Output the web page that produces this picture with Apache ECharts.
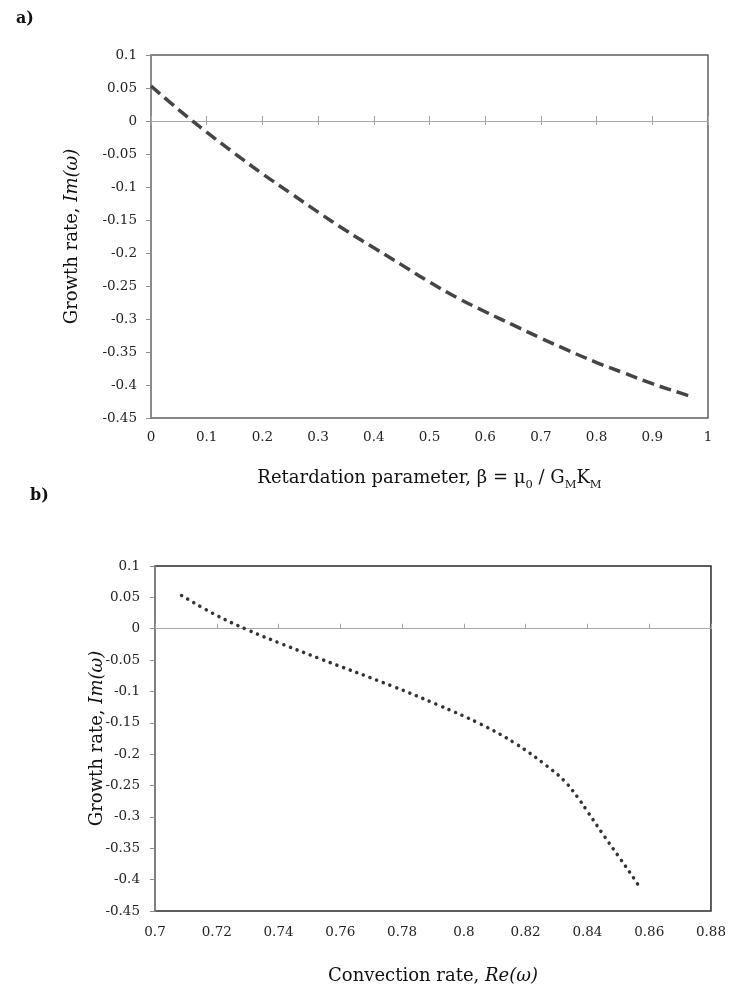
<!DOCTYPE html>
<html>
<head>
<meta charset="utf-8">
<script src="https://cdn.jsdelivr.net/npm/echarts@6/dist/echarts.min.js"></script>
<style>
html,body{margin:0;padding:0;background:#fff;}
#main{width:729px;height:994px;}
</style>
</head>
<body>
<div id="main"></div>
<script>
// Panel a: growth rate vs retardation parameter
const betaValues = [0, 0.05, 0.1, 0.15, 0.2, 0.25, 0.3, 0.35, 0.4, 0.45, 0.5, 0.55, 0.6, 0.65, 0.7, 0.75, 0.8, 0.85, 0.9, 0.95, 0.975];
const growthA = [0.053, 0.017, -0.017, -0.049, -0.080, -0.109, -0.138, -0.166, -0.192, -0.218, -0.244, -0.268, -0.289, -0.309, -0.329, -0.348, -0.366, -0.382, -0.398, -0.412, -0.419];
// Panel b: growth rate vs convection rate
const convectionB = [0.7086, 0.7194, 0.7301, 0.7414, 0.7530, 0.7771, 0.7914, 0.8054, 0.8167, 0.8269, 0.8328, 0.8376, 0.8401, 0.8455, 0.8501, 0.8545, 0.8573];
const growthB = [0.053, 0.0227, -0.002, -0.0249, -0.047, -0.092, -0.121, -0.152, -0.183, -0.219, -0.244, -0.274, -0.292, -0.331, -0.363, -0.394, -0.415];
// Tick settings
const yTicks = {min: -0.45, max: 0.1, interval: 0.05};
const xTicksA = {min: 0, max: 1, interval: 0.1};
const xTicksB = {min: 0.7, max: 0.88, interval: 0.02};

const serif = 'DejaVu Serif';
const fmt = v => String(+(+v).toFixed(2));

const seriesA = betaValues.map((b, i) => [b, growthA[i]]);
const seriesB = convectionB.map((c, i) => [c, growthB[i]]);

const labelStyle = {fontFamily: serif, fontSize: 13.5, color: '#222'};
const nameRich = {
  n: {fontFamily: serif, fontSize: 18, color: '#111', lineHeight: 26},
  i: {fontFamily: serif, fontSize: 18, color: '#111', fontStyle: 'italic', lineHeight: 26},
  s: {fontFamily: serif, fontSize: 11.5, color: '#111', lineHeight: 14, verticalAlign: 'bottom'}
};

function yAxisFor(gridIndex, nameGap, margin) {
  return {
    type: 'value', gridIndex, min: yTicks.min, max: yTicks.max, interval: yTicks.interval,
    axisLine: {show: true, lineStyle: {color: '#8c8c8c', width: 1.5}},
    axisTick: {show: true, length: 5, lineStyle: {color: '#8c8c8c'}},
    axisLabel: Object.assign({margin, formatter: fmt}, labelStyle),
    splitLine: {show: false},
    name: '{n|Growth rate, }{i|Im(ω)}', nameLocation: 'middle', nameGap, nameMoveOverlap: false,
    nameTextStyle: {rich: nameRich}
  };
}

const option = {
  animation: false,
  backgroundColor: '#fff',
  title: [
    {text: 'a)', left: 11, top: 6, textStyle: {fontFamily: serif, fontWeight: 'bold', fontSize: 16, color: '#111'}},
    {text: 'b)', left: 25, top: 483, textStyle: {fontFamily: serif, fontWeight: 'bold', fontSize: 16, color: '#111'}}
  ],
  grid: [
    {left: 151, top: 55, width: 557, height: 363, show: true, borderColor: '#5f5f5f', borderWidth: 1.5, backgroundColor: 'transparent'},
    {left: 155, top: 566, width: 557, height: 345, show: true, borderColor: '#2a2a2a', borderWidth: 1.5, backgroundColor: 'transparent'}
  ],
  xAxis: [
    // panel a: zero line with downward ticks
    {type: 'value', gridIndex: 0, min: xTicksA.min, max: xTicksA.max, interval: xTicksA.interval, position: 'bottom',
     axisLine: {show: true, onZero: true, onZeroAxisIndex: 0, lineStyle: {color: '#a6a6a6', width: 1.2}},
     axisTick: {show: true, length: 4, lineStyle: {color: '#a6a6a6'}}, axisLabel: {show: false}, splitLine: {show: false}},
    // panel a: upward ticks
    {type: 'value', gridIndex: 0, min: xTicksA.min, max: xTicksA.max, interval: xTicksA.interval, position: 'top',
     axisLine: {show: false, onZero: true, onZeroAxisIndex: 0},
     axisTick: {show: true, length: 5, lineStyle: {color: '#a6a6a6'}}, axisLabel: {show: false}, splitLine: {show: false}},
    // panel a: labels at bottom
    {type: 'value', gridIndex: 0, min: xTicksA.min, max: xTicksA.max, interval: xTicksA.interval, position: 'bottom',
     axisLine: {show: false, onZero: false}, axisTick: {show: false},
     axisLabel: Object.assign({margin: 12, formatter: fmt}, labelStyle), splitLine: {show: false},
     name: '{n|Retardation parameter, β = μ}{s|0}{n| / G}{s|M}{n|K}{s|M}', nameLocation: 'middle', nameGap: 47, nameMoveOverlap: false,
     nameTextStyle: {rich: nameRich}},
    // panel b: zero line with upward ticks
    {type: 'value', gridIndex: 1, min: xTicksB.min, max: xTicksB.max, interval: xTicksB.interval, position: 'top',
     axisLine: {show: true, onZero: true, onZeroAxisIndex: 1, lineStyle: {color: '#a6a6a6', width: 1.2}},
     axisTick: {show: true, length: 5, lineStyle: {color: '#a6a6a6'}}, axisLabel: {show: false}, splitLine: {show: false}},
    // panel b: labels at bottom
    {type: 'value', gridIndex: 1, min: xTicksB.min, max: xTicksB.max, interval: xTicksB.interval, position: 'bottom',
     axisLine: {show: false, onZero: false}, axisTick: {show: false},
     axisLabel: Object.assign({margin: 14, formatter: fmt}, labelStyle), splitLine: {show: false},
     name: '{n|Convection rate, }{i|Re(ω)}', nameLocation: 'middle', nameGap: 52, nameMoveOverlap: false,
     nameTextStyle: {rich: nameRich}}
  ],
  yAxis: [yAxisFor(0, 66, 14), yAxisFor(1, 45, 15)],
  series: [
    {type: 'line', xAxisIndex: 0, yAxisIndex: 0, data: seriesA, smooth: 0.4, showSymbol: false,
     lineStyle: {color: '#454545', width: 3.5, type: [12, 6]}},
    {type: 'line', xAxisIndex: 3, yAxisIndex: 1, data: seriesB, smooth: 0.4, showSymbol: false,
     lineStyle: {color: '#333', width: 3.5, type: [0.1, 7], cap: 'round'}}
  ]
};

const chart = echarts.init(document.getElementById('main'), null, {renderer: 'canvas'});
chart.setOption(option);
</script>
</body>
</html>
